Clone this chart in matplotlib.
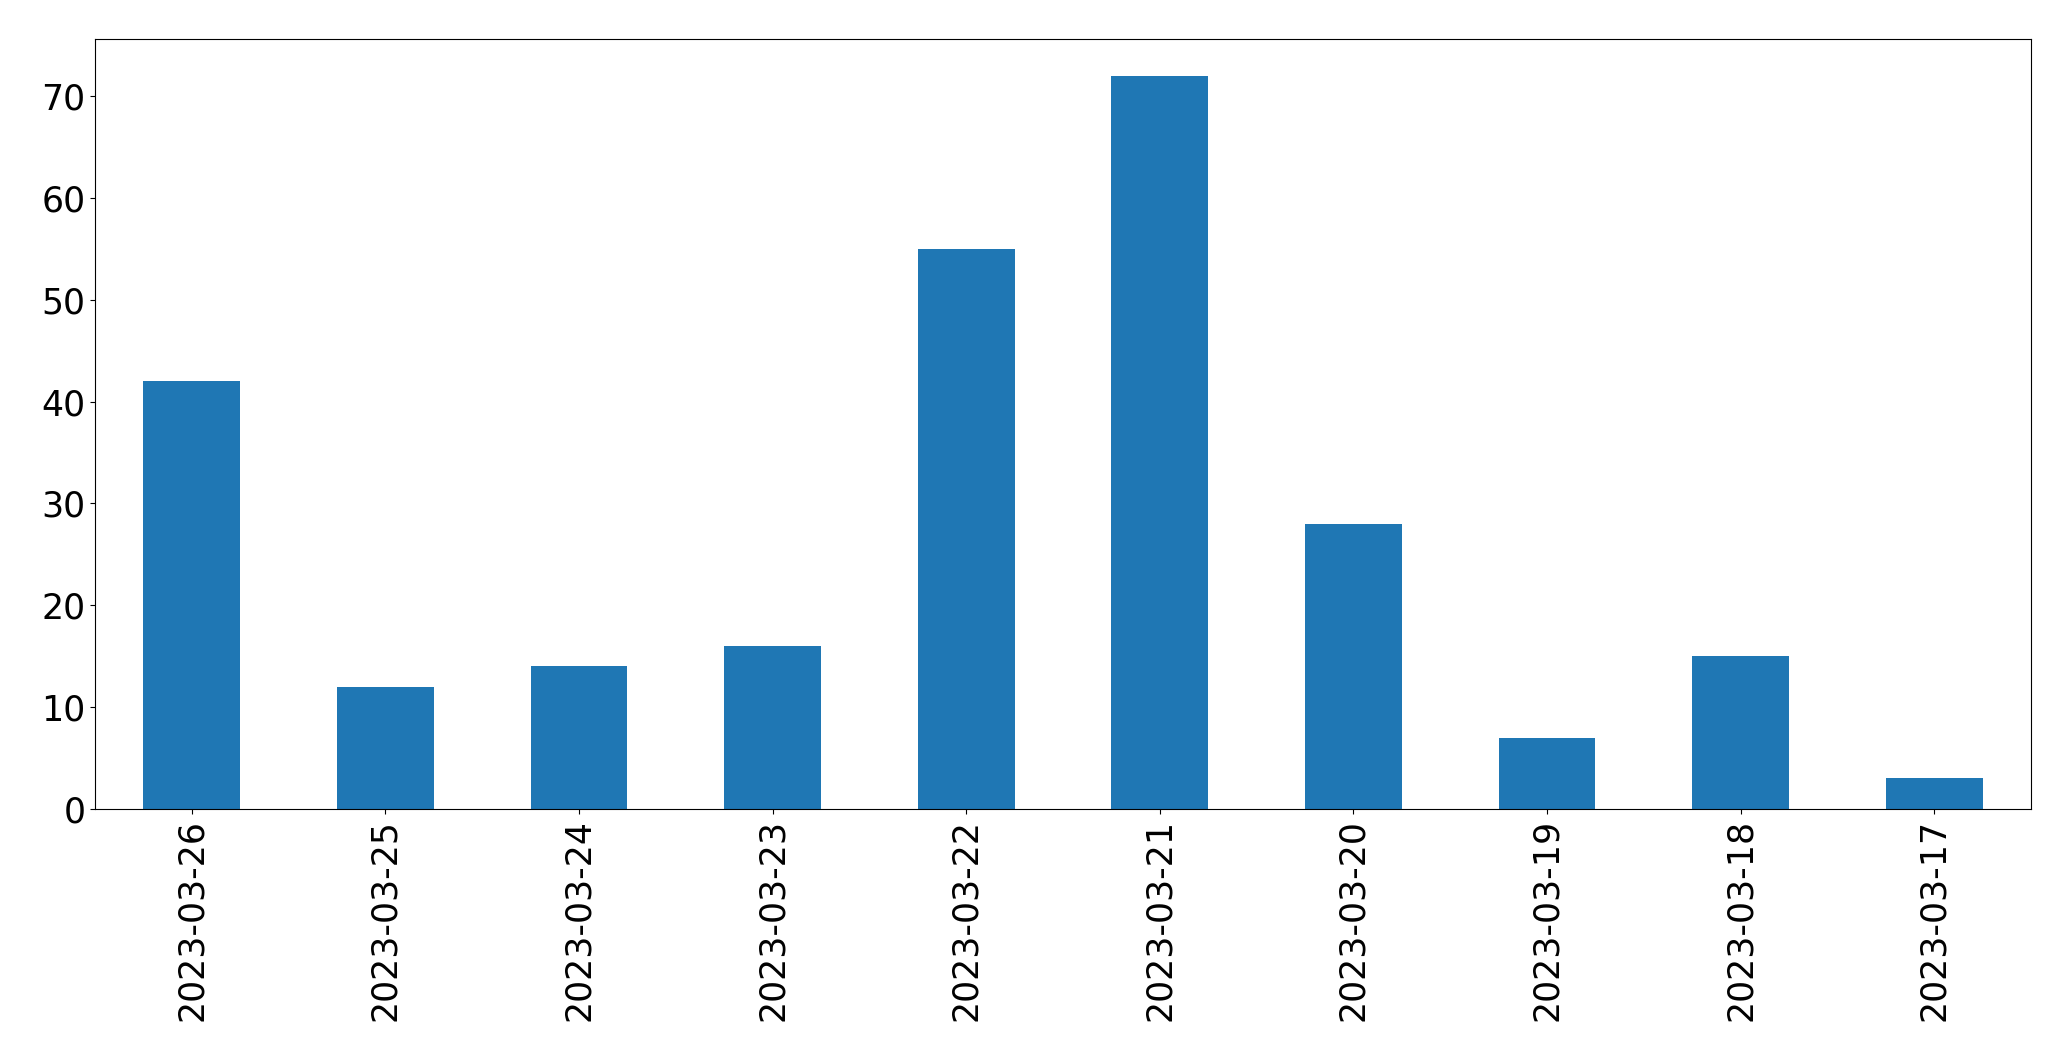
import matplotlib
matplotlib.use("Agg")
import matplotlib.pyplot as plt
import pandas as pd

dates = [
    "2023-03-26", "2023-03-25", "2023-03-24", "2023-03-23", "2023-03-22",
    "2023-03-21", "2023-03-20", "2023-03-19", "2023-03-18", "2023-03-17",
]
counts = [42, 12, 14, 16, 55, 72, 28, 7, 15, 3]

series = pd.Series(counts, index=dates)

fig = plt.figure(figsize=(20.71, 10.61), dpi=100)
ax = fig.add_axes([0.0459, 0.2375, 0.9348, 0.7257])

series.plot(kind="bar", ax=ax, color="#1f77b4", width=0.5, fontsize=25)

fig.savefig("out.png", dpi=100)
